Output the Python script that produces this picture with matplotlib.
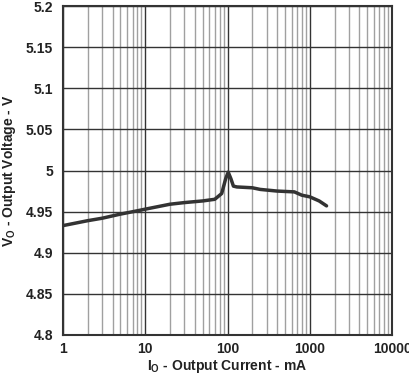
import matplotlib.pyplot as plt
from matplotlib.ticker import LogLocator, FixedLocator

plt.rcParams['font.family'] = 'Liberation Sans'
plt.rcParams['font.weight'] = 'bold'
plt.rcParams['mathtext.fontset'] = 'custom'
plt.rcParams['mathtext.rm'] = 'Liberation Sans:bold'
plt.rcParams['mathtext.it'] = 'Liberation Sans:bold'
plt.rcParams['mathtext.bf'] = 'Liberation Sans:bold'

# Output current (mA) and output voltage (V)
current_ma = [1, 2, 3, 5, 8, 10, 20, 30, 50, 70, 85, 95, 102, 110, 118, 130,
              200, 250, 400, 650, 800, 1000, 1300, 1600]
voltage_v = [4.933, 4.939, 4.942, 4.947, 4.951, 4.953, 4.959, 4.961, 4.963,
             4.965, 4.972, 4.990, 4.998, 4.990, 4.981, 4.980, 4.979, 4.977,
             4.975, 4.974, 4.970, 4.968, 4.963, 4.957]

x_ticks = [1, 10, 100, 1000, 10000]
x_labels = ['1', '10', '100', '1000', '10000']
y_ticks = [4.8, 4.85, 4.9, 4.95, 5.0, 5.05, 5.1, 5.15, 5.2]
y_labels = ['4.8', '4.85', '4.9', '4.95', '5', '5.05', '5.1', '5.15', '5.2']

fig = plt.figure(figsize=(4.1, 3.74), dpi=100)
ax = fig.add_axes([63 / 410, 1 - 335 / 374, 329 / 410, 329 / 374])

ax.set_xscale('log')
ax.set_xlim(1, 10000)
ax.set_ylim(4.8, 5.2)

ax.xaxis.set_major_locator(FixedLocator(x_ticks))
ax.set_xticklabels(x_labels)
ax.xaxis.set_minor_locator(LogLocator(base=10, subs=range(2, 10)))
ax.set_yticks(y_ticks)
ax.set_yticklabels(y_labels)

ax.grid(True, which='major', color='#333333', linewidth=1.0)
ax.grid(True, which='minor', axis='x', color='#a0a0a0', linewidth=1.0)
ax.tick_params(which='both', length=0, labelsize=10, colors='#222222')
ax.tick_params(axis='x', pad=5)
ax.tick_params(axis='y', pad=7)

for s in ax.spines.values():
    s.set_color('#333333')
    s.set_linewidth(1.5)

ax.plot(current_ma, voltage_v, color='#333333', linewidth=2.5,
        solid_capstyle='round')

ax.set_xlabel(r'I$_\mathrm{O}$ - Output Current - mA', fontsize=10,
              fontweight='bold', color='#222222', labelpad=1.5)
ax.set_ylabel(r'V$_\mathrm{O}$ - Output Voltage - V', fontsize=10,
              fontweight='bold', color='#222222', labelpad=6)

fig.savefig('out.png', dpi=100)
